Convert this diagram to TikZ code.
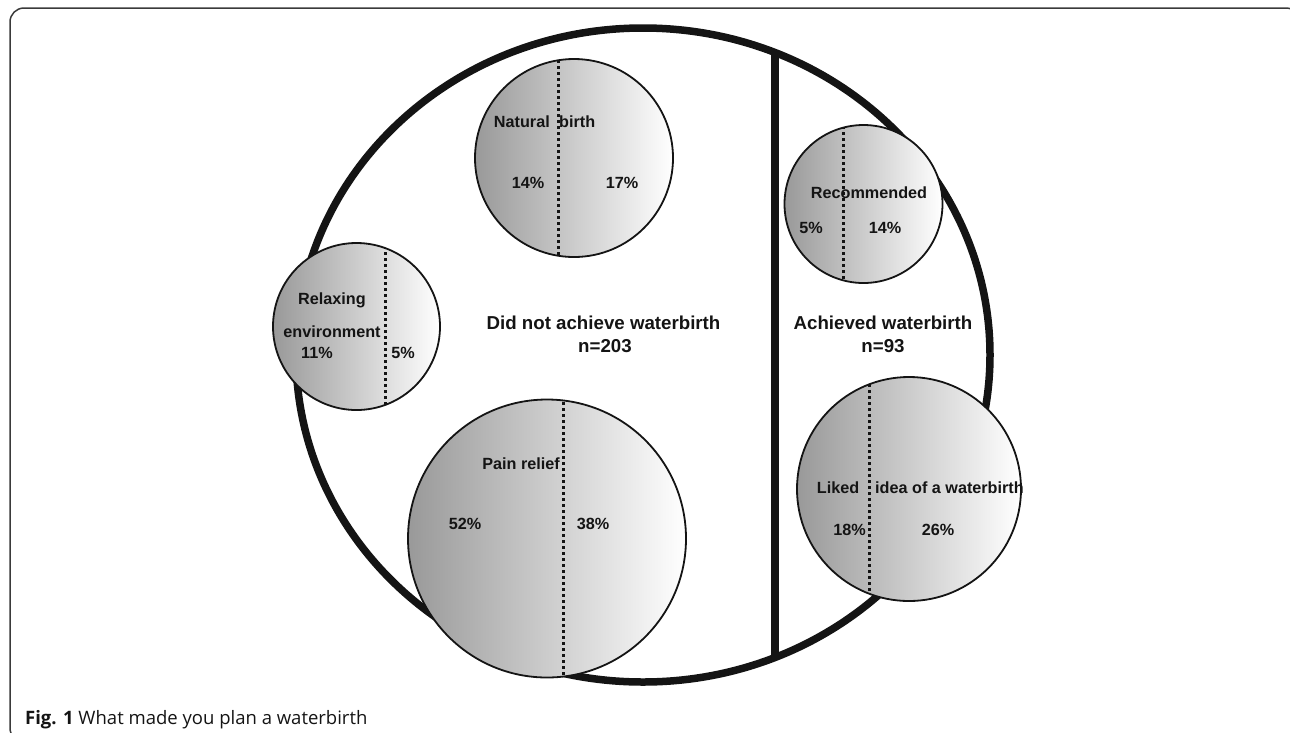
\documentclass[tikz,border=0pt]{standalone}
\usepackage{fontspec}
\setmainfont{Liberation Sans}
\newfontfamily\capfont{Open Sans}
\usetikzlibrary{shapes.geometric}
\definecolor{inkc}{HTML}{141414}
\definecolor{framec}{HTML}{3A3A3A}
\tikzset{
  bub/.style={circle, draw=inkc, line width=1.8, inner sep=0, shading=axis, left color=black!40, right color=white},
  dotline/.style={draw=inkc, line width=3, dash pattern=on 3 off 3},
  lbl/.style={anchor=base, inner sep=0, text=inkc, font=\fontsize{16.2}{19}\selectfont\bfseries},
  big/.style={anchor=base, inner sep=0, text=inkc, font=\fontsize{18.7}{22}\selectfont\bfseries},
}
\begin{document}
\begin{tikzpicture}[x=1pt,y=-1pt]
\useasboundingbox (0,0) rectangle (1290,732);
% frame
\draw[framec, line width=1.5, rounded corners=14] (10,8) rectangle (1300,742);
% outer ellipse
\node[ellipse, draw=inkc, line width=7.5, minimum width=694, minimum height=654, inner sep=0] (outer) at (643,355) {};
\begin{scope}
  \clip (643,355) ellipse [x radius=347, y radius=327];
  \draw[inkc, line width=8] (775,0) -- (775,732);
\end{scope}
% circles
\node[bub, minimum size=198] (nat) at (574,158) {};
\node[bub, minimum size=167] (rel) at (356.5,326.5) {};
\node[bub, minimum size=278] (pain) at (547,538.5) {};
\node[bub, minimum size=158] (rec) at (863.5,204) {};
\node[bub, minimum size=224] (liked) at (909,489) {};
% dotted dividers
\begin{scope}\clip (nat.center) circle (99);
  \draw[dotline] (558,0) -- (558,732);\end{scope}
\begin{scope}\clip (rel.center) circle (83.5);
  \draw[dotline] (385,0) -- (385,732);\end{scope}
\begin{scope}\clip (pain.center) circle (139);
  \draw[dotline] (563,0) -- (563,732);\end{scope}
\begin{scope}\clip (rec.center) circle (79);
  \draw[dotline] (843,0) -- (843,732);\end{scope}
\begin{scope}\clip (liked.center) circle (112);
  \draw[dotline] (869,0) -- (869,732);\end{scope}
% labels: natural birth
\node[lbl, anchor=base east] (natA) at (550,127) {Natural};
\node[lbl, anchor=base west] (natB) at (559,127) {birth};
\node[lbl] (natL) at (528,188) {14\%};
\node[lbl] (natR) at (622,188) {17\%};
% relaxing environment
\node[lbl] (relA) at (332,304) {Relaxing};
\node[lbl] (relB) at (332,337) {environment};
\node[lbl] (relL) at (317,358) {11\%};
\node[lbl] (relR) at (403,358) {5\%};
% pain relief
\node[lbl, anchor=base east] (painA) at (560,469) {Pain relief};
\node[lbl] (painL) at (465,529) {52\%};
\node[lbl] (painR) at (593,529) {38\%};
% recommended
\node[lbl] (recA) at (869,198) {Recommended};
\node[lbl] (recL) at (811,233) {5\%};
\node[lbl] (recR) at (885,233) {14\%};
% liked idea
\node[lbl] (likA) at (838,493) {Liked};
\node[lbl, anchor=base west] (likB) at (875,493) {idea of a waterbirth};
\node[lbl, anchor=base east] (likL) at (866,535) {18\%};
\node[lbl] (likR) at (938,535) {26\%};
% group titles
\node[big] (didA) at (603.5,329) {Did not achieve waterbirth};
\node[big] (didB) at (605,352) {n=203};
\node[big] (achA) at (883,329) {Achieved waterbirth};
\node[big] (achB) at (883,352) {n=93};
% caption
\node[anchor=base west, inner sep=0, text=inkc, font=\capfont\fontsize{18.5}{22}\selectfont] (cap) at (25,724) {\textbf{Fig. 1} What made you plan a waterbirth};
\end{tikzpicture}
\end{document}
